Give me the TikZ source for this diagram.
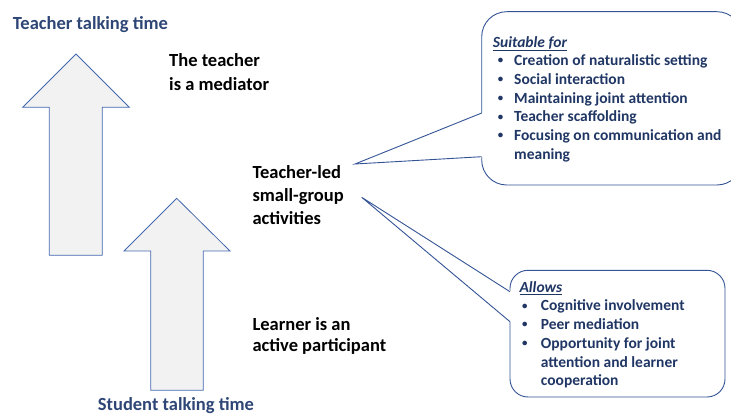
\documentclass[tikz,border=0pt]{standalone}
\usepackage{fontspec}
\setmainfont{Carlito}
\definecolor{arrowline}{RGB}{68,104,176}
\definecolor{arrowfill}{RGB}{242,242,242}
\definecolor{calloutline}{RGB}{52,84,150}
\definecolor{titleblue}{RGB}{46,70,118}
\definecolor{boxnavy}{RGB}{32,54,100}
\newcommand{\smallbul}{\raisebox{0.25ex}{\scalebox{0.7}{\textbullet}}}
\newcommand{\bulA}{\hspace*{5pt}\makebox[16.3pt][l]{\smallbul}}
\newcommand{\bulB}{\hspace*{2.7pt}\makebox[18.7pt][l]{\smallbul}}
\tikzset{
  bigarrow/.style={draw=arrowline,fill=arrowfill,line width=0.8pt,line join=miter},
  callout/.style={draw=calloutline,fill=white,line width=0.9pt},
  pointer/.style={draw=calloutline,line width=0.9pt},
  axislabel/.style={anchor=base west,inner sep=0pt,text=titleblue,font=\fontsize{18.5}{22}\selectfont\bfseries},
  midlabel/.style={anchor=base west,inner sep=0pt,align=left,text=black,font=\bfseries},
  boxtext/.style={anchor=base west,inner sep=0pt,align=left,text=boxnavy,font=\fontsize{15.5}{18.7}\selectfont\bfseries}
}
\begin{document}
\begin{tikzpicture}[x=1pt,y=-1pt]
\useasboundingbox (0,0) rectangle (731,414);
\clip (0,0) rectangle (731,414);
% the two upward arrows
\draw[bigarrow] (49.3,255.3) -- (49.3,107.3) -- (22.7,107.3) -- (76,54) -- (129.3,107.3) -- (102.3,107.3) -- (102.3,255.3) -- cycle;
\draw[bigarrow] (150.7,390.3) -- (150.7,251) -- (124,251) -- (176.7,198.3) -- (230,251) -- (203.3,251) -- (203.3,390.3) -- cycle;
% callout boxes
\draw[callout,rounded corners=25pt] (481.7,11.7) rectangle (742,185);
\draw[callout,rounded corners=18pt] (510,270.3) rectangle (725,397);
% callout pointers
\coordinate (tipA) at (355,164);
\coordinate (tipB) at (361.7,197.3);
\fill[white] (tipA) -- (482.8,112.6) -- (482.8,157.2) -- cycle;
\draw[pointer] (481.7,113) -- (tipA) -- (481.7,156.7);
\fill[white] (tipB) -- (511.1,291.2) -- (511.1,322.2) -- cycle;
\draw[pointer] (510,291.7) -- (tipB) -- (510,321.7);
% labels (multi-line nodes sit on their last baseline)
\node[axislabel] (ttt) at (12.7,29.3) {Teacher talking time};
\node[axislabel] (stt) at (97.7,410.3) {Student talking time};
\node[midlabel,font=\fontsize{18.5}{24}\selectfont\bfseries] (mediator) at (169,90.7) {The teacher\\is a mediator};
\node[midlabel,font=\fontsize{18.5}{23}\selectfont\bfseries] (groupwork) at (252.3,225) {Teacher-led\\small-group\\activities};
\node[midlabel,font=\fontsize{18.5}{20.5}\selectfont\bfseries] (participant) at (252.3,351) {Learner is an\\active participant};
\node[boxtext] (suitable) at (492.7,159.3) {\underline{\textit{Suitable for}}\\
\bulA Creation of naturalistic setting\\
\bulA Social interaction\\
\bulA Maintaining joint attention\\
\bulA Teacher scaffolding\\
\bulA Focusing on communication and\\
\hspace*{21.3pt}meaning};
\node[boxtext] (allows) at (519.3,385.7) {\underline{\textit{Allows}}\\
\bulB Cognitive involvement\\
\bulB Peer mediation\\
\bulB Opportunity for joint\\
\hspace*{21.4pt}attention and learner\\
\hspace*{21.4pt}cooperation};
\end{tikzpicture}
\end{document}
